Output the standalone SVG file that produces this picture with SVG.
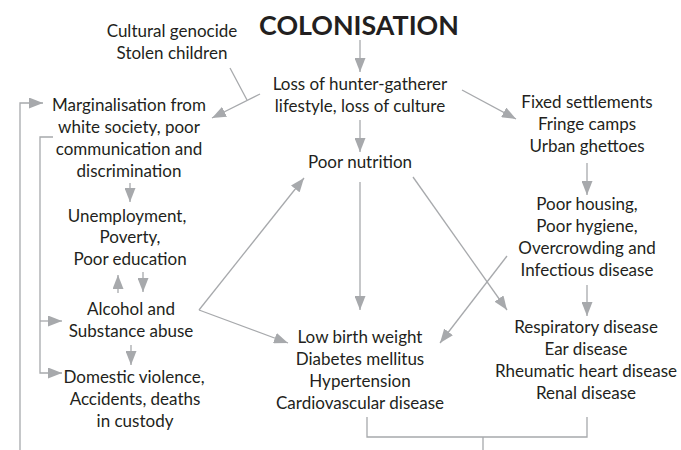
<svg xmlns="http://www.w3.org/2000/svg" width="681" height="450" viewBox="0 0 681 450">
<defs>
<marker id="ah" markerUnits="userSpaceOnUse" markerWidth="15" markerHeight="11" refX="14" refY="5.5" orient="auto">
<path d="M0,0 L14,5.5 L0,11 z" fill="#a7a9ac"/>
</marker>
<style>
text{font-family:Lato,"Open Sans","Liberation Sans",sans-serif;font-size:17px;fill:#231f20;text-anchor:middle}
.title{font-size:26.8px;font-weight:bold}
.c{fill:none;stroke:#a7a9ac;stroke-width:1.3}
.a{marker-end:url(#ah)}
</style>
</defs>
<rect width="681" height="450" fill="#ffffff"/>
<g id="colonisation"><text class="title" x="359" y="35">COLONISATION</text></g>
<g id="cultural-genocide"><text x="172" y="37">Cultural genocide</text><text x="172" y="59">Stolen children</text></g>
<g id="loss-of-culture"><text x="360" y="90">Loss of hunter-gatherer</text><text x="360" y="112">lifestyle, loss of culture</text></g>
<g id="poor-nutrition"><text x="360" y="168">Poor nutrition</text></g>
<g id="fixed-settlements"><text x="587" y="108">Fixed settlements</text><text x="587" y="130">Fringe camps</text><text x="587" y="152">Urban ghettoes</text></g>
<g id="poor-housing"><text x="587" y="210">Poor housing,</text><text x="587" y="232">Poor hygiene,</text><text x="587" y="254">Overcrowding and</text><text x="587" y="276">Infectious disease</text></g>
<g id="respiratory"><text x="586" y="333">Respiratory disease</text><text x="586" y="355">Ear disease</text><text x="586" y="377">Rheumatic heart disease</text><text x="586" y="399">Renal disease</text></g>
<g id="low-birth-weight"><text x="360" y="343">Low birth weight</text><text x="360" y="365">Diabetes mellitus</text><text x="360" y="387">Hypertension</text><text x="360" y="409">Cardiovascular disease</text></g>
<g id="marginalisation"><text x="129" y="111">Marginalisation from</text><text x="129" y="133">white society, poor</text><text x="129" y="155">communication and</text><text x="129" y="177">discrimination</text></g>
<g id="unemployment"><text x="127" y="222">Unemployment,</text><text x="130" y="243">Poverty,</text><text x="130" y="265">Poor education</text></g>
<g id="alcohol"><text x="131" y="315">Alcohol and</text><text x="131" y="337">Substance abuse</text></g>
<g id="domestic-violence"><text x="134" y="383">Domestic violence,</text><text x="135" y="405">Accidents, deaths</text><text x="135" y="427">in custody</text></g>
<g id="connectors">
<path class="c a" d="M360,40 L360,72"/>
<path class="c a" d="M360,120 L360,152"/>
<path class="c a" d="M462,90 L516,119"/>
<path class="c a" d="M260,94 L212,118"/>
<path class="c" d="M230,68 L247,100"/>
<path class="c a" d="M360,182 L360,310"/>
<path class="c a" d="M413,177 L507,310"/>
<path class="c a" d="M507,256 L440,343"/>
<path class="c a" d="M587,163 L587,195"/>
<path class="c a" d="M587,285 L587,316"/>
<path class="c a" d="M199,310 L304,178"/>
<path class="c a" d="M199,310 L288,343"/>
<path class="c a" d="M130,183 L130,202"/>
<path class="c a" d="M118,293 L118,275"/>
<path class="c a" d="M143,272 L143,292"/>
<path class="c a" d="M131,345 L131,365"/>
<path class="c a" d="M20,450 L20,103 L43,103"/>
<path class="c a" d="M53,137 L40,137 L40,373 L62,373"/>
<path class="c a" d="M40,321 L62,321"/>
<path class="c" d="M367,417 L367,437 L587,437 L587,417 M483,437 L483,450"/>
</g>
</svg>
